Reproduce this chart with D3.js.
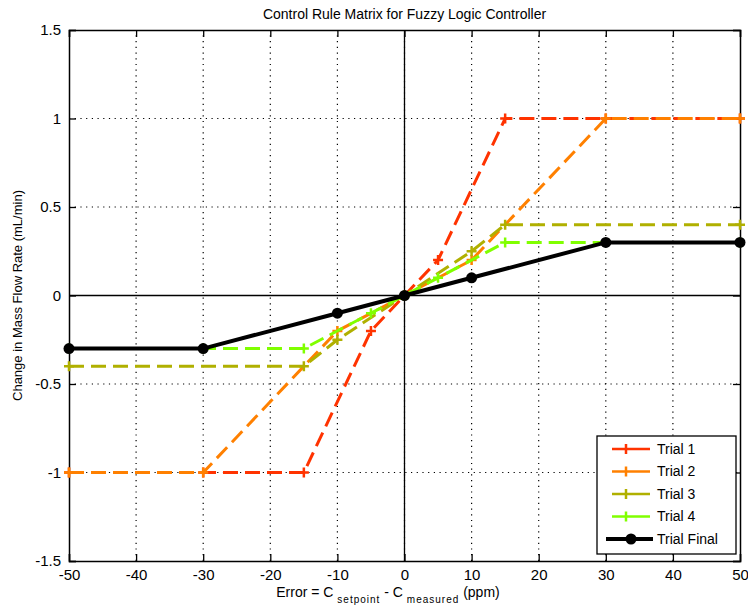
<!DOCTYPE html>
<html lang="en">
<head>
<meta charset="UTF-8">
<title>Control Rule Matrix for Fuzzy Logic Controller</title>
<script src="https://cdnjs.cloudflare.com/ajax/libs/d3/7.8.5/d3.min.js"></script>
<style>
    body { margin: 0; background: #fff; }
    svg text { font-family: 'Liberation Sans', Arial, sans-serif; fill: #000; }
</style>
</head>
<body>
<div id="chart"></div>
<script>
    // rule matrix: error (ppm) -> change in flow rate (mL/min)
    const trial1 = [[-50, -1], [-30, -1], [-15, -1], [-5, -0.2], [0, 0], [5, 0.2], [15, 1], [30, 1], [50, 1]];
    const trial2 = [[-50, -1], [-30, -1], [-10, -0.2], [0, 0], [10, 0.2], [30, 1], [50, 1]];
    const trial3 = [[-50, -0.4], [-15, -0.4], [-10, -0.25], [0, 0], [10, 0.25], [15, 0.4], [50, 0.4]];
    const trial4 = [[-50, -0.3], [-30, -0.3], [-15, -0.3], [-5, -0.1], [0, 0], [5, 0.1], [15, 0.3], [50, 0.3]];
    const trialFinal = [[-50, -0.3], [-30, -0.3], [-10, -0.1], [0, 0], [10, 0.1], [30, 0.3], [50, 0.3]];

    const xTicks = [-50, -40, -30, -20, -10, 0, 10, 20, 30, 40, 50];
    const yTicks = [-1.5, -1, -0.5, 0, 0.5, 1, 1.5];

    const series = [
        { name: "Trial 1", data: trial1, color: "#ff3300", final: false },
        { name: "Trial 2", data: trial2, color: "#ff8000", final: false },
        { name: "Trial 3", data: trial3, color: "#b0b000", final: false },
        { name: "Trial 4", data: trial4, color: "#80ff00", final: false },
        { name: "Trial Final", data: trialFinal, color: "#000000", final: true }
    ];

    const width = 748, height = 611;
    const margin = { top: 30, right: 8, bottom: 50, left: 69 };
    const x0 = margin.left, x1 = width - margin.right;
    const y0 = height - margin.bottom, y1 = margin.top;

    const x = d3.scaleLinear().domain([-50, 50]).range([x0, x1]);
    const y = d3.scaleLinear().domain([-1.5, 1.5]).range([y0, y1]);

    const svg = d3.select("#chart").append("svg")
        .attr("width", width)
        .attr("height", height);

    // dotted grid
    const grid = svg.append("g").attr("stroke", "#000").attr("stroke-width", 1.2)
        .attr("stroke-dasharray", "1.2,4.5");
    grid.selectAll(".gx").data(xTicks.slice(1, -1)).join("line")
        .attr("x1", d => x(d)).attr("x2", d => x(d))
        .attr("y1", y0).attr("y2", y1);
    grid.selectAll(".gy").data(yTicks.slice(1, -1)).join("line")
        .attr("y1", d => y(d)).attr("y2", d => y(d))
        .attr("x1", x0).attr("x2", x1);

    // zero lines
    svg.append("line").attr("x1", x(0)).attr("x2", x(0)).attr("y1", y0).attr("y2", y1)
        .attr("stroke", "#000").attr("stroke-width", 1.3);
    svg.append("line").attr("x1", x0).attr("x2", x1).attr("y1", y(0)).attr("y2", y(0))
        .attr("stroke", "#000").attr("stroke-width", 1.3);

    // axes with inward ticks on all four sides (plain hyphen for negatives)
    const tick = 7;
    const fmt = d => String(d);
    const axB = svg.append("g").attr("transform", `translate(0,${y0})`)
        .call(d3.axisBottom(x).tickValues(xTicks).tickSize(-tick).tickPadding(6).tickFormat(fmt));
    const axT = svg.append("g").attr("transform", `translate(0,${y1})`)
        .call(d3.axisTop(x).tickValues(xTicks).tickSize(-tick).tickFormat(""));
    const axL = svg.append("g").attr("transform", `translate(${x0},0)`)
        .call(d3.axisLeft(y).tickValues(yTicks).tickSize(-tick).tickPadding(8).tickFormat(fmt));
    const axR = svg.append("g").attr("transform", `translate(${x1},0)`)
        .call(d3.axisRight(y).tickValues(yTicks).tickSize(-tick).tickFormat(""));
    [axB, axT, axL, axR].forEach(a => {
        a.select(".domain").attr("stroke", "#000").attr("stroke-width", 1.5);
        a.selectAll(".tick line").attr("stroke", "#000").attr("stroke-width", 1.3);
        a.selectAll("text").attr("font-size", 15).attr("font-family", "'Liberation Sans', Arial, sans-serif");
    });
    axB.selectAll("text").attr("dy", "0.85em");

    // lines
    const line = d3.line().x(d => x(d[0])).y(d => y(d[1]));

    series.forEach(s => {
        svg.append("path")
            .datum(s.data)
            .attr("d", line)
            .attr("fill", "none")
            .attr("stroke", s.color)
            .attr("stroke-width", s.final ? 4 : 3)
            .attr("stroke-dasharray", s.final ? null : "15,7");
        const g = svg.append("g");
        if (s.final) {
            g.selectAll("circle").data(s.data).join("circle")
                .attr("cx", d => x(d[0])).attr("cy", d => y(d[1]))
                .attr("r", 5.5).attr("fill", "#000");
        } else {
            g.selectAll("path").data(s.data).join("path")
                .attr("d", "M-5,0H5M0,-5V5")
                .attr("transform", d => `translate(${x(d[0])},${y(d[1])})`)
                .attr("stroke", s.color).attr("stroke-width", 2.5).attr("fill", "none");
        }
    });

    // title and labels
    svg.append("text").attr("x", (x0 + x1) / 2).attr("y", 19)
        .attr("text-anchor", "middle").attr("font-size", 14)
        .text("Control Rule Matrix for Fuzzy Logic Controller");

    svg.append("text")
        .attr("transform", `translate(22,${(y0 + y1) / 2}) rotate(-90)`)
        .attr("text-anchor", "middle").attr("font-size", 13)
        .text("Change in Mass Flow Rate (mL/min)");

    const xl = svg.append("text").attr("x", 388).attr("y", 597)
        .attr("text-anchor", "middle").attr("font-size", 14);
    xl.append("tspan").text("Error = C ");
    xl.append("tspan").attr("font-size", 10).attr("letter-spacing", 1).attr("dy", 6).text("setpoint");
    xl.append("tspan").attr("dy", -6).text(" - C ");
    xl.append("tspan").attr("font-size", 10).attr("letter-spacing", 1).attr("dy", 6).text("measured");
    xl.append("tspan").attr("dy", -6).text(" (ppm)");

    // legend
    const lg = svg.append("g").attr("transform", "translate(597,436)");
    lg.append("rect").attr("width", 139).attr("height", 118)
        .attr("fill", "#fff").attr("stroke", "#000").attr("stroke-width", 1.3);
    series.forEach((s, i) => {
        const ly = 13 + i * 22.5;
        const row = lg.append("g").attr("transform", `translate(0,${ly})`);
        row.append("line").attr("x1", s.final ? 9 : 15).attr("x2", s.final ? 56 : 53)
            .attr("stroke", s.color).attr("stroke-width", s.final ? 4 : 2.5);
        if (s.final) {
            row.append("circle").attr("cx", 34).attr("r", 5.5).attr("fill", "#000");
        } else {
            row.append("path").attr("d", "M29,-5V5").attr("stroke", s.color).attr("stroke-width", 2.5);
        }
        row.append("text").attr("x", 60).attr("dy", "0.35em").attr("font-size", 14).text(s.name);
    });
</script>
</body>
</html>
